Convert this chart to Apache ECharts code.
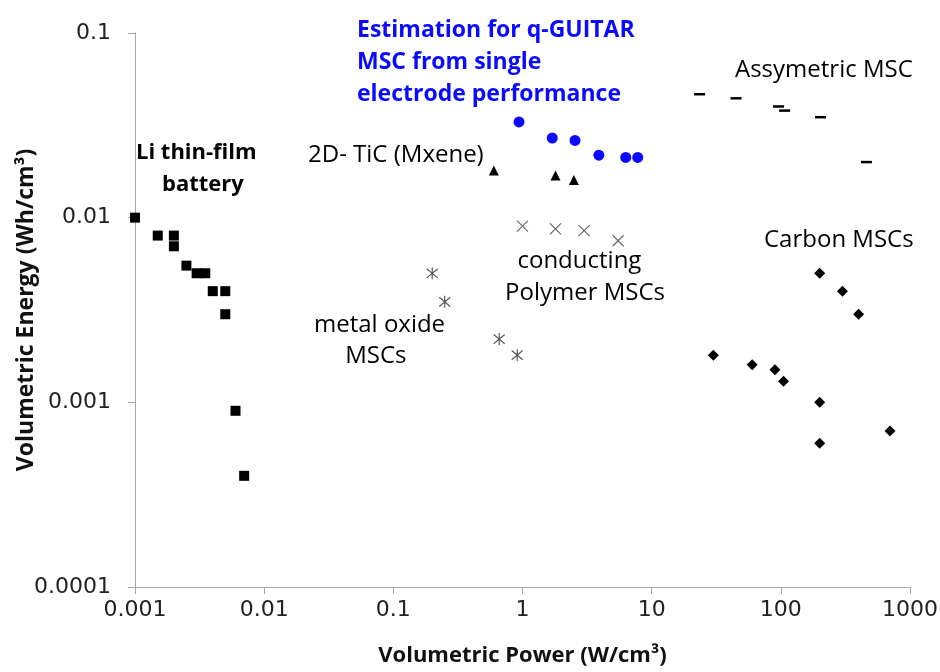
<!DOCTYPE html>
<html>
<head>
<meta charset="utf-8">
<script src="https://cdn.jsdelivr.net/npm/echarts@6/dist/echarts.min.js"></script>
<style>
  html, body { margin: 0; padding: 0; background: #fff; }
  #chart { width: 940px; height: 672px; }
</style>
</head>
<body>
<div id="chart"></div>
<script>
// Ragone-style plot: volumetric power vs volumetric energy (both log scales)

const xTicks = [0.001, 0.01, 0.1, 1, 10, 100, 1000];
const yTicks = [0.0001, 0.001, 0.01, 0.1];

// [power W/cm3, energy Wh/cm3]
const liThinFilm = [
  [0.001, 0.01], [0.0015, 0.008], [0.002, 0.008], [0.002, 0.007],
  [0.0025, 0.0055], [0.003, 0.005], [0.0035, 0.005], [0.004, 0.004],
  [0.005, 0.004], [0.005, 0.003], [0.006, 0.0009], [0.007, 0.0004]
];
const qGuitarEstimate = [
  [0.94, 0.033], [1.7, 0.027], [2.55, 0.0262], [3.9, 0.0218], [6.3, 0.0212], [7.8, 0.0212]
];
const tiCMxene = [
  [0.6, 0.018], [1.8, 0.0169], [2.5, 0.016]
];
const conductingPolymer = [
  [1.0, 0.009], [1.8, 0.0087], [3.0, 0.0085], [5.5, 0.0075]
];
const metalOxide = [
  [0.2, 0.005], [0.25, 0.0035], [0.66, 0.0022], [0.91, 0.0018]
];
const asymmetricMSC = [
  [23.5, 0.0466], [45, 0.0443], [96, 0.04], [107, 0.038], [203, 0.035], [460, 0.02]
];
const carbonMSC = [
  [200, 0.005], [300, 0.004], [400, 0.003], [30, 0.0018], [60, 0.0016],
  [90, 0.0015], [105, 0.0013], [200, 0.001], [700, 0.0007], [200, 0.0006]
];

const FONT = '"Open Sans", "Noto Sans", sans-serif';
const TICK_FONT = '"DejaVu Sans", "Open Sans", sans-serif';

function fmtTick(v) {
  // keep the plain decimal form of each power of ten
  const e = Math.round(Math.log10(v));
  return e < 0 ? v.toFixed(-e) : String(Math.round(v));
}

const chart = echarts.init(document.getElementById('chart'), null, { renderer: 'canvas' });

const crossPath = 'path://M0,0L10,10M10,0L0,10';
const starPath = 'path://M0,0L10,10M10,0L0,10M5,-1.5L5,11.5';

function scatter(name, data, opts) {
  return Object.assign({
    name: name,
    type: 'scatter',
    data: data,
    animation: false,
    emphasis: { disabled: true }
  }, opts);
}

chart.setOption({
  backgroundColor: '#ffffff',
  animation: false,
  grid: {
    left: 135, right: 30, top: 33, bottom: 85,
    containLabel: false, outerBoundsMode: 'none'
  },
  xAxis: {
    type: 'log',
    logBase: 10,
    min: xTicks[0],
    max: xTicks[xTicks.length - 1],
    splitNumber: xTicks.length - 1,
    name: 'Volumetric Power (W/cm³)',
    nameLocation: 'middle',
    nameGap: 58,
    nameMoveOverlap: false,
    nameTextStyle: { fontFamily: FONT, fontWeight: 'bold', fontSize: 22, color: '#111' },
    axisLine: { lineStyle: { color: '#a6a6a6', width: 1 } },
    axisTick: { show: true, inside: false, length: 7, lineStyle: { color: '#a6a6a6' } },
    minorTick: { show: false },
    splitLine: { show: false },
    axisLabel: {
      fontFamily: TICK_FONT, fontSize: 22, color: '#222', margin: 12,
      formatter: fmtTick
    }
  },
  yAxis: {
    type: 'log',
    logBase: 10,
    min: yTicks[0],
    max: yTicks[yTicks.length - 1],
    splitNumber: yTicks.length - 1,
    name: 'Volumetric Energy (Wh/cm³)',
    nameLocation: 'middle',
    nameGap: 97,
    nameMoveOverlap: false,
    nameRotate: 90,
    nameTextStyle: { fontFamily: FONT, fontWeight: 'bold', fontSize: 23, color: '#111' },
    axisLine: { show: true, lineStyle: { color: '#a6a6a6', width: 1 } },
    axisTick: { show: true, inside: false, length: 7, lineStyle: { color: '#a6a6a6' } },
    splitLine: { show: false },
    axisLabel: {
      fontFamily: TICK_FONT, fontSize: 22, color: '#222', margin: 24,
      formatter: fmtTick
    }
  },
  series: [
    scatter('Li thin-film battery', liThinFilm, {
      symbol: 'rect', symbolSize: 10, itemStyle: { color: '#000', opacity: 1 }
    }),
    scatter('q-GUITAR estimate', qGuitarEstimate, {
      symbol: 'circle', symbolSize: 11, itemStyle: { color: '#0a0aff', opacity: 1 }
    }),
    scatter('2D TiC (Mxene)', tiCMxene, {
      symbol: 'triangle', symbolSize: 10, itemStyle: { color: '#000', opacity: 1 }
    }),
    scatter('Conducting polymer MSCs', conductingPolymer, {
      symbol: crossPath, symbolSize: 11,
      itemStyle: { color: 'transparent', borderColor: '#6a6a6a', borderWidth: 1.2, opacity: 1 }
    }),
    scatter('Metal oxide MSCs', metalOxide, {
      symbol: starPath, symbolSize: [11, 12],
      itemStyle: { color: 'transparent', borderColor: '#555', borderWidth: 1.2, opacity: 1 }
    }),
    scatter('Asymmetric MSC', asymmetricMSC, {
      symbol: 'rect', symbolSize: [11, 2.5], itemStyle: { color: '#000', opacity: 1 }
    }),
    scatter('Carbon MSCs', carbonMSC, {
      symbol: 'diamond', symbolSize: 11, itemStyle: { color: '#000', opacity: 1 }
    })
  ],
  graphic: [
    { type: 'text', left: 357, top: 14, style: {
        text: 'Estimation for q-GUITAR\nMSC from single\nelectrode performance',
        font: 'bold 23px ' + FONT, fill: '#0a0aff', lineHeight: 32 } },
    { type: 'text', left: 136, top: 142, style: {
        text: 'Li thin-film', font: 'bold 22px ' + FONT, fill: '#000' } },
    { type: 'text', left: 162, top: 174, style: {
        text: 'battery', font: 'bold 22px ' + FONT, fill: '#000' } },
    { type: 'text', left: 308, top: 143, style: {
        text: '2D- TiC (Mxene)', font: '24px ' + FONT, fill: '#000' } },
    { type: 'text', left: 735, top: 58, style: {
        text: 'Assymetric MSC', font: '24px ' + FONT, fill: '#000' } },
    { type: 'text', left: 764, top: 228, style: {
        text: 'Carbon MSCs', font: '24px ' + FONT, fill: '#000' } },
    { type: 'text', left: 505, top: 245, style: {
        text: '  conducting\nPolymer MSCs', font: '24px ' + FONT, fill: '#000', lineHeight: 32 } },
    { type: 'text', left: 314, top: 310, style: {
        text: 'metal oxide\n     MSCs', font: '24px ' + FONT, fill: '#000', lineHeight: 31 } }
  ]
});
</script>
</body>
</html>
